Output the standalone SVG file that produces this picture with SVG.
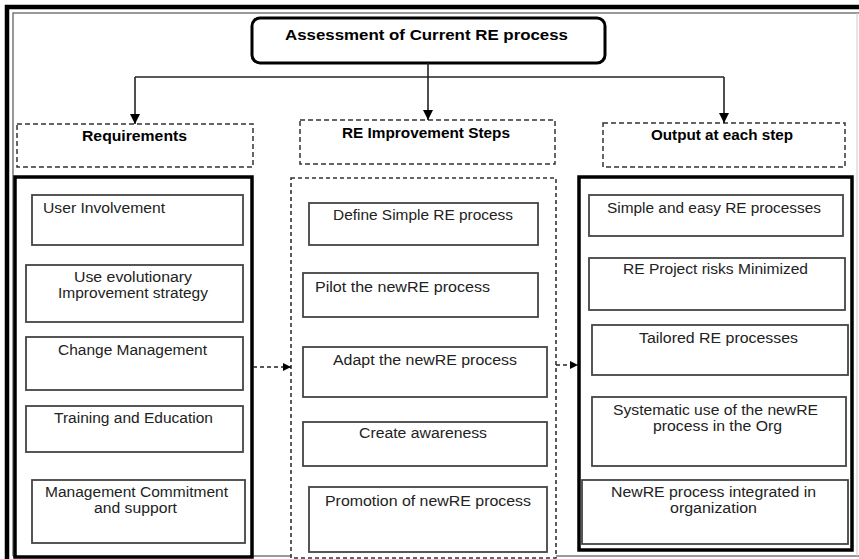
<svg xmlns="http://www.w3.org/2000/svg" width="859" height="559" viewBox="0 0 859 559">
<defs>
<style>
.frame{fill:none;stroke:#000;stroke-width:4.5}
.frame2{fill:none;stroke:#777;stroke-width:1.5}
.title{fill:#fff;stroke:#000;stroke-width:3}
.hdr{fill:#fff;stroke:#333;stroke-width:1.5;stroke-dasharray:5 3}
.cont{fill:#fff;stroke:#000;stroke-width:3.5}
.contd{fill:#fff;stroke:#333;stroke-width:1.6;stroke-dasharray:4 3}
.box{fill:#fff;stroke:#444;stroke-width:1.8}
.t{font-family:"Liberation Sans",Arial,sans-serif;font-size:14px;fill:#222}
.c{text-anchor:middle}
.b{font-weight:bold;fill:#000}
.conn{fill:none;stroke:#222;stroke-width:1.6}
.dconn{fill:none;stroke:#222;stroke-width:1.4;stroke-dasharray:4 3}
</style>
<marker id="ah" viewBox="0 0 10 10" refX="10" refY="5" markerWidth="10" markerHeight="10" markerUnits="userSpaceOnUse" orient="auto">
<path d="M0,0 L10,5 L0,10 Z" fill="#000"/>
</marker>
<marker id="ahs" viewBox="0 0 10 10" refX="10" refY="5" markerWidth="9" markerHeight="8" markerUnits="userSpaceOnUse" orient="auto">
<path d="M0,0 L10,5 L0,10 Z" fill="#000"/>
</marker>
</defs>
<rect width="859" height="559" fill="#fff"/>
<g id="frame">
<path class="frame" d="M7,562 V7 H865"/>
<path class="frame2" d="M13,556 V13 H865"/>
<path class="frame2" d="M13,556 H865"/>
<path d="M857,13 V556" stroke="#ccc" stroke-width="1" fill="none"/>
</g>
<g id="title">
<rect class="title" x="252" y="18" width="353" height="45" rx="8"/>
<text class="t b c" x="426.5" y="40" style="font-size:15.5px" textLength="283" lengthAdjust="spacingAndGlyphs">Assessment of Current RE process</text>
</g>
<g id="hdr-req">
<rect class="hdr" x="17" y="124" width="236" height="43"/>
<text class="t b c" x="134.5" y="141" textLength="105" lengthAdjust="spacingAndGlyphs">Requirements</text>
</g>
<g id="hdr-steps">
<rect class="hdr" x="300" y="120" width="255" height="44"/>
<text class="t b c" x="426" y="138" textLength="168" lengthAdjust="spacingAndGlyphs">RE Improvement Steps</text>
</g>
<g id="hdr-out">
<rect class="hdr" x="603" y="123" width="242" height="44"/>
<text class="t b c" x="722" y="140" textLength="142" lengthAdjust="spacingAndGlyphs">Output at each step</text>
</g>
<g id="cont-req">
<rect class="cont" x="15" y="177" width="237" height="380"/>
</g>
<g id="cont-steps">
<rect class="contd" x="291" y="178" width="265" height="380"/>
</g>
<g id="cont-out">
<rect class="cont" x="579" y="177" width="273" height="373"/>
</g>
<g id="r1"><rect class="box" x="32" y="195" width="211" height="50"/><text class="t" x="43" y="213" textLength="122" lengthAdjust="spacingAndGlyphs">User Involvement</text></g>
<g id="r2"><rect class="box" x="26" y="265" width="217" height="57"/><text class="t c" x="133" y="282" textLength="118" lengthAdjust="spacingAndGlyphs">Use evolutionary</text><text class="t c" x="133" y="298" textLength="150" lengthAdjust="spacingAndGlyphs">Improvement strategy</text></g>
<g id="r3"><rect class="box" x="26" y="337" width="217" height="53"/><text class="t c" x="132.5" y="355" textLength="149" lengthAdjust="spacingAndGlyphs">Change Management</text></g>
<g id="r4"><rect class="box" x="26" y="406" width="217" height="46"/><text class="t c" x="133.5" y="423" textLength="159" lengthAdjust="spacingAndGlyphs">Training and Education</text></g>
<g id="r5"><rect class="box" x="32" y="480" width="213" height="63"/><text class="t c" x="136.5" y="497" textLength="183" lengthAdjust="spacingAndGlyphs">Management Commitment</text><text class="t c" x="135.5" y="513" textLength="83" lengthAdjust="spacingAndGlyphs">and support</text></g>
<g id="s1"><rect class="box" x="309" y="203" width="229" height="42"/><text class="t c" x="423" y="220" textLength="180" lengthAdjust="spacingAndGlyphs">Define Simple RE process</text></g>
<g id="s2"><rect class="box" x="303" y="273" width="235" height="44"/><text class="t" x="315" y="292" textLength="175" lengthAdjust="spacingAndGlyphs">Pilot the newRE process</text></g>
<g id="s3"><rect class="box" x="303" y="347" width="244" height="50"/><text class="t c" x="425" y="365" textLength="184" lengthAdjust="spacingAndGlyphs">Adapt the newRE process</text></g>
<g id="s4"><rect class="box" x="303" y="422" width="244" height="44"/><text class="t c" x="423" y="438" textLength="128" lengthAdjust="spacingAndGlyphs">Create awareness</text></g>
<g id="s5"><rect class="box" x="309" y="487" width="238" height="65"/><text class="t c" x="428" y="506" textLength="206" lengthAdjust="spacingAndGlyphs">Promotion of newRE process</text></g>
<g id="o1"><rect class="box" x="589" y="195" width="254" height="41"/><text class="t c" x="714" y="213" textLength="214" lengthAdjust="spacingAndGlyphs">Simple and easy RE processes</text></g>
<g id="o2"><rect class="box" x="589" y="258" width="256" height="52"/><text class="t c" x="715.5" y="274" textLength="185" lengthAdjust="spacingAndGlyphs">RE Project risks Minimized</text></g>
<g id="o3"><rect class="box" x="592" y="325" width="256" height="50"/><text class="t c" x="718.5" y="343" textLength="159" lengthAdjust="spacingAndGlyphs">Tailored RE processes</text></g>
<g id="o4"><rect class="box" x="592" y="397" width="254" height="69"/><text class="t c" x="715.5" y="415" textLength="205" lengthAdjust="spacingAndGlyphs">Systematic use of the newRE</text><text class="t c" x="717.5" y="431" textLength="129" lengthAdjust="spacingAndGlyphs">process in the Org</text></g>
<g id="o5"><rect class="box" x="582" y="480" width="266" height="64"/><text class="t c" x="713.5" y="497" textLength="205" lengthAdjust="spacingAndGlyphs">NewRE process integrated in</text><text class="t c" x="713.5" y="513" textLength="87" lengthAdjust="spacingAndGlyphs">organization</text></g>
<g id="connectors">
<path class="conn" d="M428,63 V120" marker-end="url(#ah)"/>
<path class="conn" d="M135,77 H724"/>
<path class="conn" d="M135,77 V124" marker-end="url(#ah)"/>
<path class="conn" d="M724,77 V123" marker-end="url(#ah)"/>
<path class="dconn" d="M253,367 H291" marker-end="url(#ahs)"/>
<path class="dconn" d="M556,365 H578" marker-end="url(#ahs)"/>
</g>
</svg>
